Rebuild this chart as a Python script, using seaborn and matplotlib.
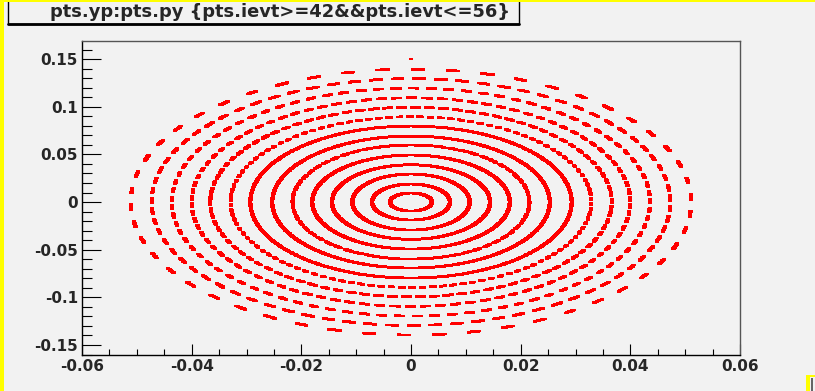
import numpy as np
import pandas as pd

import matplotlib
matplotlib.use("Agg")
import matplotlib.pyplot as plt
from matplotlib.patches import Rectangle
from matplotlib.lines import Line2D
from matplotlib.ticker import MultipleLocator, FormatStrFormatter
import seaborn as sns

TITLE = "pts.yp:pts.py {pts.ievt>=42&&pts.ievt<=56}"

# ring semi-axes, one ring per event (x = py, y = yp)
ring_py = [0.0038, 0.0071, 0.0107, 0.0144, 0.0180, 0.0216, 0.0253,
           0.0293, 0.0329, 0.0366, 0.0400, 0.0436, 0.0473, 0.0511]
ring_yp = [0.0095, 0.0189, 0.0294, 0.0391, 0.0493, 0.0598, 0.0692,
           0.0797, 0.0895, 0.0994, 0.1094, 0.1196, 0.1295, 0.1395]
# 0 = ring filled by the turns, else number of islands the turns fall into
ring_islands = [0, 0, 0, 0, 0, 60, 0, 0, 110, 90, 90, 85, 75, 50]
ring_fill    = [1, 1, 1, 1, 1, 0.65, 1, 1, 0.35, 0.5, 0.45, 0.4, 0.45, 0.3]
# stray point near the top
extra_py = [0.0]
extra_yp = [0.150]

XLIM = (-0.06, 0.06)
YLIM = (-0.1605, 0.169)
BG   = "#f2f2f2"
W, H = 815, 391

# ── build the point table ──────────────────────────────────────────────────
frames = []
for ev, (a, b, m, f) in enumerate(zip(ring_py, ring_yp, ring_islands, ring_fill), start=42):
    if m == 0:
        th = np.linspace(0, 2 * np.pi, 900, endpoint=False)
    else:
        c = np.arange(m) * 2 * np.pi / m + 0.3 * ev
        w = f * 2 * np.pi / m
        th = (c[:, None] + np.linspace(-w / 2, w / 2, 8)[None, :]).ravel()
    frames.append(pd.DataFrame({"ievt": ev, "py": a * np.cos(th), "yp": b * np.sin(th)}))
frames.append(pd.DataFrame({"ievt": 56, "py": extra_py, "yp": extra_yp}))
pts = pd.concat(frames, ignore_index=True)

# ── figure ─────────────────────────────────────────────────────────────────
sns.set_style("ticks")
plt.rcParams["font.family"] = ["DejaVu Sans"]
plt.rcParams["axes.unicode_minus"] = False

fig = plt.figure(figsize=(W / 100, H / 100), dpi=100, facecolor=BG)
ax = fig.add_axes([82 / W, 1 - 355 / H, (740 - 82) / W, (355 - 41) / H])
ax.set_facecolor(BG)

box = [(-0.75, -0.5), (0.75, -0.5), (0.75, 0.5), (-0.75, 0.5), (-0.75, -0.5)]
sns.scatterplot(data=pts, x="py", y="yp", color="#ff0000", marker=box, s=9,
                linewidth=0, edgecolor="none", legend=False, ax=ax)

ax.set_xlim(*XLIM)
ax.set_ylim(*YLIM)
ax.set_xlabel("")
ax.set_ylabel("")

ax.xaxis.set_major_locator(MultipleLocator(0.02))
ax.xaxis.set_minor_locator(MultipleLocator(0.005))
ax.yaxis.set_major_locator(MultipleLocator(0.05))
ax.yaxis.set_minor_locator(MultipleLocator(0.01))
ax.xaxis.set_major_formatter(FormatStrFormatter("%g"))
ax.yaxis.set_major_formatter(FormatStrFormatter("%g"))

ax.tick_params(which="both", direction="in", top=False, right=False,
               color="black", width=0.8)
ax.tick_params(axis="y", which="major", length=13.5, pad=3)
ax.tick_params(axis="y", which="minor", length=7)
ax.tick_params(axis="x", which="major", length=8, pad=3)
ax.tick_params(axis="x", which="minor", length=4.5)
for lbl in ax.get_xticklabels() + ax.get_yticklabels():
    lbl.set_fontweight("bold")
    lbl.set_fontsize(11)

for side in ["left", "bottom"]:
    ax.spines[side].set_color("black")
    ax.spines[side].set_linewidth(1)
for side in ["top", "right"]:
    ax.spines[side].set_color("#555555")
    ax.spines[side].set_linewidth(1)

# title pave
fig.patches.append(Rectangle((8 / W, 1 - 24 / H), (519 - 8) / W, 30 / H,
                             transform=fig.transFigure, facecolor=BG,
                             edgecolor="black", linewidth=1))
fig.lines.append(Line2D([8 / W, 519 / W], [1 - 24 / H, 1 - 24 / H],
                        transform=fig.transFigure, color="black", linewidth=2))
title = fig.text(280 / W, 1 - 12 / H, TITLE, ha="center", va="center",
                 fontsize=12, fontweight="bold")
fig.canvas.draw()
tw = title.get_window_extent().width
title.set_fontsize(12 * 460 / tw)

# window frame bits
yellow = "#ffff00"
fig.patches.append(Rectangle((0, 0), 4 / W, 1, transform=fig.transFigure,
                             facecolor=yellow, edgecolor="none"))
fig.patches.append(Rectangle((0, 1 - 2 / H), 1, 2 / H, transform=fig.transFigure,
                             facecolor=yellow, edgecolor="none"))
fig.patches.append(Rectangle((806 / W, 0), 4 / W, 16 / H, transform=fig.transFigure,
                             facecolor=yellow, edgecolor="none"))
fig.patches.append(Rectangle((806 / W, 14 / H), 9 / W, 2 / H, transform=fig.transFigure,
                             facecolor=yellow, edgecolor="none"))
fig.patches.append(Rectangle((811 / W, 0), 2 / W, 13 / H, transform=fig.transFigure,
                             facecolor="#666666", edgecolor="none"))

fig.savefig("out.png", dpi=100, facecolor=BG)
